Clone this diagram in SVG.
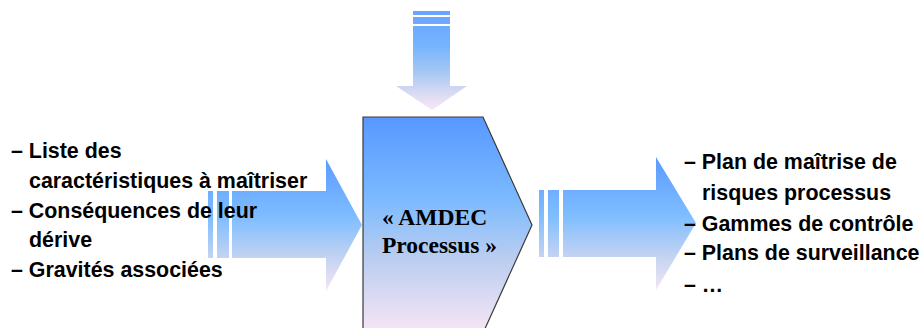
<svg xmlns="http://www.w3.org/2000/svg" width="922" height="328" viewBox="0 0 922 328">
  <defs>
    <linearGradient id="gTop" gradientUnits="userSpaceOnUse" x1="0" y1="11" x2="0" y2="110">
      <stop offset="0" stop-color="#68A4FF"/>
      <stop offset="0.35" stop-color="#76B4FF"/>
      <stop offset="0.6" stop-color="#A2C6F4"/>
      <stop offset="0.82" stop-color="#D6DAF2"/>
      <stop offset="1" stop-color="#F8E8F5"/>
    </linearGradient>
    <linearGradient id="gLeft" gradientUnits="userSpaceOnUse" x1="0" y1="159" x2="0" y2="291">
      <stop offset="0" stop-color="#5A9BFF"/>
      <stop offset="0.45" stop-color="#80BEFF"/>
      <stop offset="0.75" stop-color="#C4D3F1"/>
      <stop offset="1" stop-color="#F3E6F5"/>
    </linearGradient>
    <linearGradient id="gRight" gradientUnits="userSpaceOnUse" x1="0" y1="157" x2="0" y2="290">
      <stop offset="0" stop-color="#5A9BFF"/>
      <stop offset="0.45" stop-color="#80BEFF"/>
      <stop offset="0.75" stop-color="#C4D3F1"/>
      <stop offset="1" stop-color="#F3E6F5"/>
    </linearGradient>
    <linearGradient id="gBox" gradientUnits="userSpaceOnUse" x1="0" y1="117" x2="0" y2="333">
      <stop offset="0" stop-color="#5898FF"/>
      <stop offset="0.38" stop-color="#7BBAFF"/>
      <stop offset="0.65" stop-color="#B9CDF0"/>
      <stop offset="1" stop-color="#F8E6F5"/>
    </linearGradient>
  </defs>
  <style>
    .lbl { font-family: "Liberation Sans", Arial, sans-serif; font-weight: bold; font-size: 21.4px; fill: #000; }
    .title { font-family: "Liberation Serif", "Times New Roman", serif; font-weight: bold; font-size: 23.5px; fill: #000; }
  </style>
  <rect width="922" height="328" fill="#FFFFFF"/>

  <!-- block arrows feeding into and out of the process -->
  <g id="connectors">
    <g id="arrow-top" fill="url(#gTop)">
      <rect x="413" y="11" width="37" height="4"/>
      <rect x="413" y="17" width="37" height="7"/>
      <polygon points="413,26 450,26 450,86 467,86 432,110 396,86 413,86"/>
    </g>
    <g id="arrow-in" fill="url(#gLeft)">
      <rect x="208" y="191" width="5" height="67"/>
      <rect x="217" y="191" width="12" height="67"/>
      <polygon points="232,191 326,191 326,159 362,225 326,291 326,258 232,258"/>
    </g>
    <g id="arrow-out" fill="url(#gRight)">
      <rect x="539" y="190" width="5" height="67"/>
      <rect x="548" y="190" width="11" height="67"/>
      <polygon points="563,190 656,190 656,157 696,223 656,290 656,257 563,257"/>
    </g>
  </g>

  <!-- central process block -->
  <g id="process">
    <polygon points="363,117 483,117 532,225 483,333 363,333" fill="url(#gBox)" stroke="#3A3A3A" stroke-width="1.2"/>
    <text class="title" x="382" y="225">« AMDEC</text>
    <text class="title" x="382" y="253">Processus »</text>
  </g>

  <!-- inputs -->
  <g id="inputs">
    <text class="lbl" x="11" y="158">– Liste des</text>
    <text class="lbl" x="29" y="188">caractéristiques à maîtriser</text>
    <text class="lbl" x="11" y="218">– Conséquences de leur</text>
    <text class="lbl" x="29" y="247">dérive</text>
    <text class="lbl" x="11" y="277">– Gravités associées</text>
  </g>

  <!-- outputs -->
  <g id="outputs">
    <text class="lbl" x="684" y="169">– Plan de maîtrise de</text>
    <text class="lbl" x="702" y="200">risques processus</text>
    <text class="lbl" x="684" y="231">– Gammes de contrôle</text>
    <text class="lbl" x="684" y="260">– Plans de surveillance</text>
    <text class="lbl" x="684" y="292">– …</text>
  </g>
</svg>
